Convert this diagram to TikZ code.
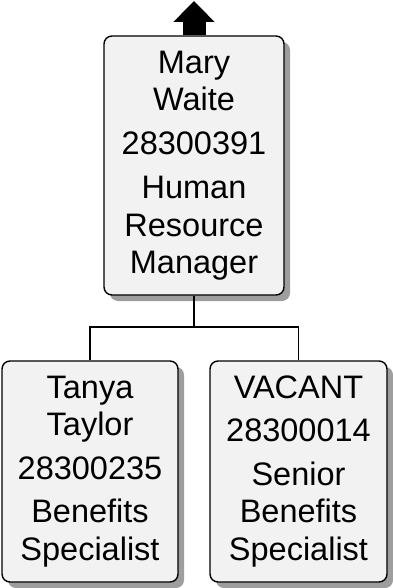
\documentclass[tikz,border=0pt]{standalone}
\usepackage{fontspec}
\setmainfont{Liberation Sans}
\usetikzlibrary{positioning,arrows.meta,shadows}
\tikzset{
  box/.style  ={draw, line width=1.4pt, rounded corners=8pt, fill=black!5,
                inner sep=0pt, align=center,
                font=\fontsize{32.5}{37.5}\selectfont,
                drop shadow={shadow xshift=6pt, shadow yshift=-6pt,
                             fill=black!38, opacity=1}},
  link/.style ={draw, line width=1.3pt},
  up/.style   ={line width=23pt, -{Triangle[length=21pt,width=40pt]}},
}

\begin{document}
\begin{tikzpicture}[x=1pt,y=-1pt]
  \useasboundingbox (0,0) rectangle (392,588);

  % manager
  \node[box, minimum width=180pt, minimum height=259pt](mary) at (194,165.5)
        {Mary\\Waite\\[6pt]28300391\\[7pt]Human\\Resource\\Manager};

  % reports
  \node[box, minimum width=176pt, minimum height=221pt](tanya) at (90,471.5)
        {Tanya\\Taylor\\[6pt]28300235\\[6pt]Benefits\\Specialist};
  \node[box, minimum width=177pt, minimum height=221pt](vacant) at (298.5,471.5)
        {VACANT\\[6pt]28300014\\[6pt]Senior\\Benefits\\Specialist};

  \coordinate (bus) at (194,327);
  \coordinate (top) at (194,1);

  \draw[up](mary.north) -- (top);
  \draw[link](mary.south) -- (bus) -| (tanya.north);
  \draw[link](bus) -| (vacant.north);
\end{tikzpicture}
\end{document}
